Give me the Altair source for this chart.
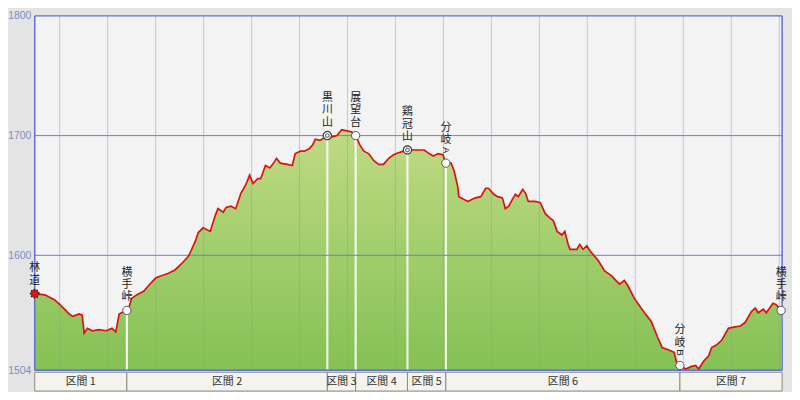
import altair as alt
import pandas as pd

# ---- elevation profile (distance km, elevation m) ----
km = [0.00, 0.21, 0.31, 0.41, 0.52, 0.62, 0.72, 0.79, 0.93, 0.99,
      1.03, 1.10, 1.20, 1.34, 1.49, 1.61, 1.69, 1.76, 1.86, 1.92,
      1.96, 2.02, 2.13, 2.27, 2.38, 2.52, 2.64, 2.79, 2.93, 3.06,
      3.20, 3.26, 3.35, 3.41, 3.51, 3.66, 3.76, 3.82, 3.93, 3.99,
      4.09, 4.19, 4.30, 4.40, 4.48, 4.55, 4.65, 4.71, 4.81, 4.90,
      4.96, 5.04, 5.12, 5.27, 5.37, 5.43, 5.54, 5.62, 5.72, 5.79,
      5.85, 5.95, 6.10, 6.20, 6.30, 6.40, 6.51, 6.61, 6.69, 6.78,
      6.86, 6.96, 7.07, 7.17, 7.27, 7.38, 7.48, 7.54, 7.69, 7.77,
      7.89, 8.12, 8.22, 8.31, 8.41, 8.51, 8.57, 8.68, 8.74, 8.82,
      8.84, 8.93, 9.03, 9.13, 9.19, 9.30, 9.40, 9.46, 9.57, 9.65,
      9.75, 9.81, 9.88, 9.96, 10.02, 10.08, 10.17, 10.23, 10.29, 10.43,
      10.54, 10.64, 10.74, 10.81, 10.89, 10.99, 11.05, 11.12, 11.16, 11.30,
      11.36, 11.43, 11.51, 11.57, 11.74, 11.88, 12.02, 12.19, 12.29, 12.36,
      12.50, 12.64, 12.77, 12.85, 12.98, 13.08, 13.22, 13.33, 13.39, 13.45,
      13.57, 13.68, 13.78, 13.84, 13.95, 14.05, 14.11, 14.21, 14.32, 14.46,
      14.57, 14.71, 14.81, 14.94, 15.02, 15.08, 15.19, 15.25, 15.39, 15.45,
      15.56]
elev = [1568, 1567, 1565, 1563, 1559, 1555, 1551, 1549, 1551, 1550,
        1535, 1539, 1537, 1538, 1537, 1539, 1536, 1551, 1553, 1554,
        1556, 1564, 1567, 1570, 1575, 1581, 1583, 1585, 1588, 1593,
        1599, 1604, 1612, 1619, 1623, 1620, 1633, 1639, 1636, 1640,
        1641, 1639, 1652, 1659, 1667, 1660, 1664, 1664, 1675, 1673,
        1676, 1681, 1677, 1676, 1675, 1685, 1687, 1687, 1689, 1692,
        1697, 1696, 1700, 1699, 1700, 1705, 1704, 1703, 1700, 1692,
        1687, 1685, 1679, 1676, 1676, 1681, 1684, 1685, 1687, 1688,
        1688, 1688, 1685, 1683, 1685, 1684, 1677, 1677, 1671, 1657,
        1649, 1647, 1645, 1647, 1648, 1649, 1656, 1656, 1651, 1649,
        1648, 1639, 1641, 1647, 1651, 1649, 1655, 1652, 1645, 1645,
        1644, 1635, 1631, 1629, 1620, 1617, 1620, 1609, 1605, 1605,
        1609, 1605, 1608, 1604, 1596, 1587, 1583, 1576, 1579, 1575,
        1564, 1556, 1549, 1545, 1532, 1523, 1521, 1519, 1509, 1508,
        1505, 1507, 1508, 1505, 1512, 1516, 1523, 1525, 1529, 1539,
        1540, 1541, 1544, 1553, 1556, 1552, 1555, 1552, 1560, 1559,
        1554]

# ---- waypoints ----
wp_names = ["林道", "横手峠", "黒川山", "展望台", "鶏冠山", "分岐A", "分岐B", "横手峠"]
wp_km = [0.00, 1.92, 6.10, 6.69, 7.77, 8.57, 13.45, 15.56]
wp_elev = [1568, 1554, 1700, 1700, 1688, 1677, 1508, 1554]
wp_kind = ["start", "pass", "peak", "pass", "peak", "fork", "fork", "end"]

# ---- sections ----
sec_labels = ["区間 1", "区間 2", "区間 3", "区間 4", "区間 5", "区間 6", "区間 7"]
sec_start = [0.00, 1.92, 6.10, 6.69, 7.77, 8.57, 13.45]
sec_end = [1.92, 6.10, 6.69, 7.77, 8.57, 13.45, 15.58]

# ---- axes ----
y_ticks = [1504, 1600, 1700, 1800]
y_inner = [1600, 1700]
x_grid = [0.52, 1.52, 2.52, 3.52, 4.52, 5.52, 6.52, 7.52, 8.52, 9.52,
          10.52, 11.52, 12.52, 13.52, 14.52, 15.52]
X_MAX = 15.58

W, H = 755, 358
JP = "Noto Sans CJK JP"
LH = 12.5

prof = pd.DataFrame({"km": km, "elev": elev})
wp = pd.DataFrame({"km": wp_km, "elev": wp_elev, "name": wp_names, "kind": wp_kind})
wp["base"] = [n.rstrip("AB") for n in wp_names]
wp["vtext"] = ["\n".join(list(b)) for b in wp["base"]]
wp["nch"] = [len(b) for b in wp["base"]]
wp["suffix"] = [n[-1] if n[-1] in "AB" else "" for n in wp_names]
sec = pd.DataFrame({"s": sec_start, "e": sec_end, "label": sec_labels})
sec["mid"] = (sec["s"] + sec["e"]) / 2

xs = alt.Scale(domain=[0, X_MAX], nice=False, zero=False)
ys = alt.Scale(domain=[1504, 1800], nice=False, zero=False)
yaxis = alt.Axis(values=y_ticks, grid=False, ticks=False, domain=False,
                 format="d", labelColor="#7c8cc6", labelFont="Liberation Sans",
                 labelFontSize=10.5, labelPadding=4, title=None)

X = lambda f: alt.X(f, type="quantitative", scale=xs, axis=None, title=None)
Y = lambda f: alt.Y(f, type="quantitative", scale=ys, axis=yaxis, title=None)

grad = alt.Gradient(
    gradient="linear",
    stops=[alt.GradientStop(color="#c0da84", offset=0),
           alt.GradientStop(color="#84c154", offset=1)],
    x1=1, x2=1, y1=0, y2=1)

area = alt.Chart(prof).mark_area(color=grad).encode(
    x=X("km"), y=Y("elev"), y2=alt.datum(1504))

vgrid = alt.Chart(pd.DataFrame({"km": x_grid})).mark_rule(
    color="#8f96d4", strokeWidth=1, opacity=0.5).encode(x=X("km"))

drops = alt.Chart(wp).transform_filter(
    "datum.kind != 'start' && datum.kind != 'end' && datum.elev > 1520"
).mark_rule(color="white", strokeWidth=2).encode(
    x=X("km"), y=Y("elev"), y2=alt.datum(1504))

hgrid = alt.Chart(pd.DataFrame({"elev": y_inner})).mark_rule(
    color="#6b7be0", strokeWidth=1).encode(y=Y("elev"))

border_h = alt.Chart(pd.DataFrame({"elev": [1504, 1800]})).mark_rule(
    color="#5f6fd8", strokeWidth=1.5).encode(y=Y("elev"))
border_v = alt.Chart(pd.DataFrame({"km": [0, X_MAX]})).mark_rule(
    color="#5f6fd8", strokeWidth=1.5).encode(x=X("km"))

line = alt.Chart(prof).mark_line(color="#e01010", strokeWidth=1.7).encode(
    x=X("km"), y=Y("elev"))

pts = alt.Chart(wp).transform_filter("datum.kind != 'start'").mark_point(
    shape="circle", filled=True, fill="white", stroke="#555555",
    strokeWidth=1, size=70, opacity=1).encode(x=X("km"), y=Y("elev"))
peak_in = alt.Chart(wp).transform_filter("datum.kind == 'peak'").mark_point(
    shape="circle", filled=False, stroke="#333333", strokeWidth=1.2,
    size=14).encode(x=X("km"), y=Y("elev"))
peak_out = alt.Chart(wp).transform_filter("datum.kind == 'peak'").mark_point(
    shape="circle", filled=False, stroke="#333333", strokeWidth=1.2,
    size=70).encode(x=X("km"), y=Y("elev"))
start_pt = alt.Chart(wp).transform_filter("datum.kind == 'start'").mark_point(
    shape="circle", filled=True, fill="#e01010", stroke="#222222",
    strokeWidth=1.5, strokeDash=[1.5, 1.5], size=70, opacity=1).encode(
    x=X("km"), y=Y("elev"))


def vlabel(cond, nlines, gap):
    return alt.Chart(wp).transform_filter(cond).mark_text(
        font=JP, fontSize=11, color="#222222", lineBreak="\n", lineHeight=LH,
        baseline="bottom", align="center", dy=-gap - (nlines - 1) * LH).encode(
        x=X("km"), y=Y("elev"), text="vtext:N")


labels3 = vlabel("datum.suffix == '' && datum.nch == 3", 3, 8)
labels2 = vlabel("datum.suffix == '' && datum.nch == 2", 2, 8)
labels_f = vlabel("datum.suffix != ''", 2, 18)
suffix = alt.Chart(wp).transform_filter("datum.suffix != ''").mark_text(
    font="Liberation Sans", fontSize=10, color="#222222", angle=90,
    baseline="middle", align="center", dx=-13).encode(
    x=X("km"), y=Y("elev"), text="suffix:N")

band = alt.Chart(sec).mark_rect(fill="#f5f3ee", stroke="#8a8a8a",
                                strokeWidth=1).encode(
    x=X("s"), x2="e", y=alt.value(H + 2), y2=alt.value(H + 21))
band_txt = alt.Chart(sec).mark_text(font=JP, fontSize=11, color="#333333",
                                    baseline="middle", align="center").encode(
    x=X("mid"), y=alt.value(H + 11.5), text="label:N")

chart = alt.layer(
    area, vgrid, drops, hgrid, border_h, border_v, line,
    pts, peak_out, peak_in, start_pt, labels3, labels2, labels_f, suffix,
    band, band_txt
).properties(
    width=W, height=H,
    autosize=alt.AutoSizeParams(type="none"),
    padding={"left": 27, "top": 6, "right": 10, "bottom": 20},
    background="#e4e4e4",
).configure_view(fill="#f3f3f3", strokeWidth=0)

chart.save("out.html", embed_options={"renderer": "svg", "actions": False})
